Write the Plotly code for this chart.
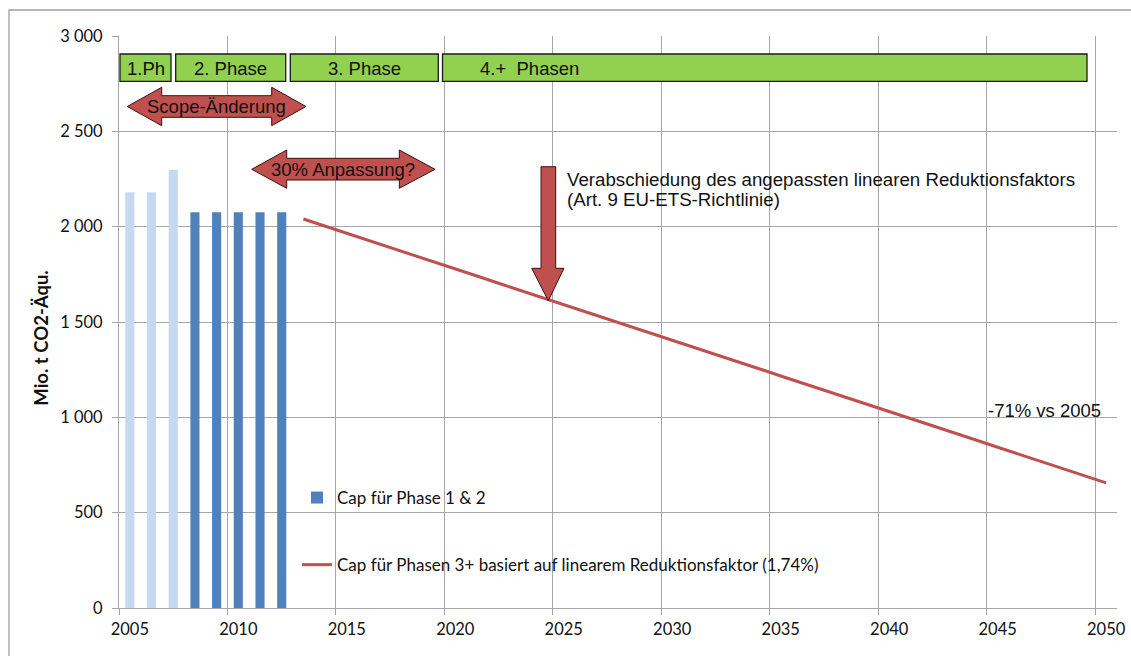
import plotly.graph_objects as go

# ---------------- data ----------------
years_phase1 = [2005, 2006, 2007]
cap_phase1 = [2180, 2180, 2298]
years_phase2 = [2008, 2009, 2010, 2011, 2012]
cap_phase2 = [2075, 2075, 2075, 2075, 2075]
years_phase3 = list(range(2013, 2051))
cap_phase3 = [2040, 2003, 1965, 1928, 1890, 1853, 1816, 1778, 1741, 1703,
              1666, 1629, 1591, 1554, 1516, 1479, 1442, 1404, 1367, 1329,
              1292, 1255, 1217, 1180, 1142, 1105, 1068, 1030, 993, 955,
              918, 881, 843, 806, 768, 731, 694, 656]
x_tick_labels = ["2005", "2010", "2015", "2020", "2025", "2030", "2035", "2040", "2045", "2050"]
y_tick_vals = [0, 500, 1000, 1500, 2000, 2500, 3000]
y_tick_labels = ["0", "500", "1 000", "1 500", "2 000", "2 500", "3 000"]

W, H = 1131, 656
ML, MT = 119, 36
MR = W - 1117
MB = H - 608
PW, PH = W - ML - MR, H - MT - MB

def px(x):  # screen x -> paper
    return (x - ML) / PW

def py(y):  # screen y -> paper
    return (H - MB - y) / PH

CAL = "Lato, Carlito, Calibri, sans-serif"
ARI = "Liberation Sans, Arial, sans-serif"
GRID = "#a6a6a6"
RED = "#c0504d"

fig = go.Figure()
fig.add_trace(go.Bar(x=years_phase1, y=cap_phase1, width=0.42,
                     marker=dict(color="#c6d9f1", line=dict(width=0)),
                     showlegend=False, legendgroup="a"))
fig.add_trace(go.Bar(x=years_phase2, y=cap_phase2, width=0.42,
                     marker=dict(color="#4f81bd", line=dict(width=0)),
                     name="Cap für Phase 1 & 2", legendgroup="b"))
fig.add_trace(go.Scatter(x=years_phase3, y=cap_phase3, mode="lines",
                         line=dict(color=RED, width=3),
                         name="Cap für Phasen 3+ basiert auf linearem Reduktionsfaktor (1,74%)",
                         legendgroup="c"))
# invisible trace on overlay axis (carries the centred year labels)
fig.add_trace(go.Scatter(x=[2005], y=[0], xaxis="x2", mode="markers",
                         marker=dict(opacity=0), showlegend=False, hoverinfo="skip"))

shapes = []
# outer chart border
shapes.append(dict(type="rect", xref="paper", yref="paper",
                   x0=px(9), x1=px(1160), y0=py(10), y1=py(700),
                   line=dict(color="#a0a0a0", width=1.3), fillcolor="rgba(0,0,0,0)", layer="below"))

annotations = []
# phase boxes
boxes = [(120, 171, "1.Ph", "center"), (175.7, 285.7, "2. Phase", "center"),
         (290.3, 438.3, "3. Phase", "center"), (442.5, 1087, "4.+  Phasen", "left")]
for x0, x1, t, al in boxes:
    shapes.append(dict(type="rect", xref="paper", yref="paper",
                       x0=px(x0), x1=px(x1), y0=py(54), y1=py(81.3),
                       fillcolor="#92d050", line=dict(color="#1a1a1a", width=1.3)))
    if al == "center":
        annotations.append(dict(xref="paper", yref="paper", x=px((x0 + x1) / 2), y=py(68),
                                text=t, showarrow=False, xanchor="center", yanchor="middle",
                                font=dict(family=ARI, size=18.5, color="#111")))
    else:
        annotations.append(dict(xref="paper", yref="paper", x=px(478), y=py(68),
                                text=t.replace("  ", "&nbsp; "), showarrow=False, xanchor="left", yanchor="middle",
                                font=dict(family=ARI, size=18.5, color="#111")))

def double_arrow(xl, xr, xil, xir, yc, ht, hb, bt, bb):
    pts = [(xl, yc), (xil, ht), (xil, bt), (xir, bt), (xir, ht), (xr, yc),
           (xir, hb), (xir, bb), (xil, bb), (xil, hb)]
    return "M " + " L ".join(f"{px(a):.5f},{py(b):.5f}" for a, b in pts) + " Z"

shapes.append(dict(type="path", xref="paper", yref="paper",
                   path=double_arrow(127.3, 306, 161.7, 271.7, 106.5, 87.3, 125.7, 95.7, 117.3),
                   fillcolor=RED, line=dict(color="#3a1010", width=1)))
annotations.append(dict(xref="paper", yref="paper", x=px(216.7), y=py(106.5), text="Scope-Änderung",
                        showarrow=False, xanchor="center", yanchor="middle",
                        font=dict(family=ARI, size=18.5, color="#111")))
shapes.append(dict(type="path", xref="paper", yref="paper",
                   path=double_arrow(251.7, 435, 286.7, 399.3, 169.3, 150, 188.3, 158.3, 180),
                   fillcolor=RED, line=dict(color="#3a1010", width=1)))
annotations.append(dict(xref="paper", yref="paper", x=px(343.3), y=py(169.5), text="30% Anpassung?",
                        showarrow=False, xanchor="center", yanchor="middle",
                        font=dict(family=ARI, size=18.5, color="#111")))

# down arrow
dpts = [(541, 166.7), (555.7, 166.7), (555.7, 268.3), (564, 268.3), (548.3, 300.7),
        (531.7, 268.3), (541, 268.3)]
shapes.append(dict(type="path", xref="paper", yref="paper",
                   path="M " + " L ".join(f"{px(a):.5f},{py(b):.5f}" for a, b in dpts) + " Z",
                   fillcolor=RED, line=dict(color="#3a1010", width=1)))
annotations.append(dict(xref="paper", yref="paper", x=px(565), y=py(179),
                        text="Verabschiedung des angepassten linearen Reduktionsfaktors",
                        showarrow=False, xanchor="left", yanchor="middle",
                        font=dict(family=ARI, size=18.7, color="#111")))
annotations.append(dict(xref="paper", yref="paper", x=px(565), y=py(200),
                        text="(Art. 9 EU-ETS-Richtlinie)",
                        showarrow=False, xanchor="left", yanchor="middle",
                        font=dict(family=ARI, size=18.7, color="#111")))
annotations.append(dict(xref="paper", yref="paper", x=px(986), y=py(410.7),
                        text="-71% vs 2005", showarrow=False, xanchor="left", yanchor="middle",
                        font=dict(family=ARI, size=18.5, color="#111")))
# y-axis title
annotations.append(dict(xref="paper", yref="paper", x=px(40.7), y=py(338),
                        text="<b>Mio. t CO2-Äqu.</b>", textangle=-90, showarrow=False,
                        xanchor="center", yanchor="middle",
                        font=dict(family=CAL, size=18.5, color="#111")))

fig.update_layout(
    width=W, height=H,
    margin=dict(l=ML, r=MR, t=MT, b=MB, pad=0, autoexpand=False),
    paper_bgcolor="white", plot_bgcolor="white",
    barmode="overlay",
    shapes=shapes, annotations=annotations,
    xaxis=dict(range=[2004.5, 2050.5], automargin=False,
               tickvals=[2004.5 + 5 * i for i in range(10)],
               showticklabels=False, showgrid=True, gridcolor=GRID, gridwidth=1,
               ticks="outside", ticklen=6, tickcolor=GRID,
               showline=True, linecolor=GRID, linewidth=1, zeroline=False),
    xaxis2=dict(overlaying="x", matches="x", side="bottom", automargin=False,
                tickvals=[2005 + 5 * i for i in range(10)], ticktext=x_tick_labels,
                showgrid=False, ticks="outside", ticklen=6, tickcolor="rgba(0,0,0,0)",
                showline=False, zeroline=False,
                tickfont=dict(family=CAL, size=16.5, color="#111")),
    yaxis=dict(range=[0, 3000], tickvals=y_tick_vals, ticktext=y_tick_labels, automargin=False,
               showgrid=True, gridcolor=GRID, gridwidth=1,
               ticks="outside", ticklen=6, tickcolor=GRID,
               showline=True, linecolor=GRID, linewidth=1, zeroline=False,
               ticklabelstandoff=6,
               tickfont=dict(family=CAL, size=16.5, color="#111")),
    legend=dict(x=px(297), y=py(480), xanchor="left", yanchor="top",
                bgcolor="rgba(0,0,0,0)", traceorder="grouped", tracegroupgap=42,
                itemwidth=30,
                font=dict(family=CAL, size=17, color="#111")),
    showlegend=True,
)

fig.write_html(
    "out.html",
    config={"displayModeBar": False},
    post_script="document.body.style.margin='0';document.body.style.overflow='hidden';",
)
